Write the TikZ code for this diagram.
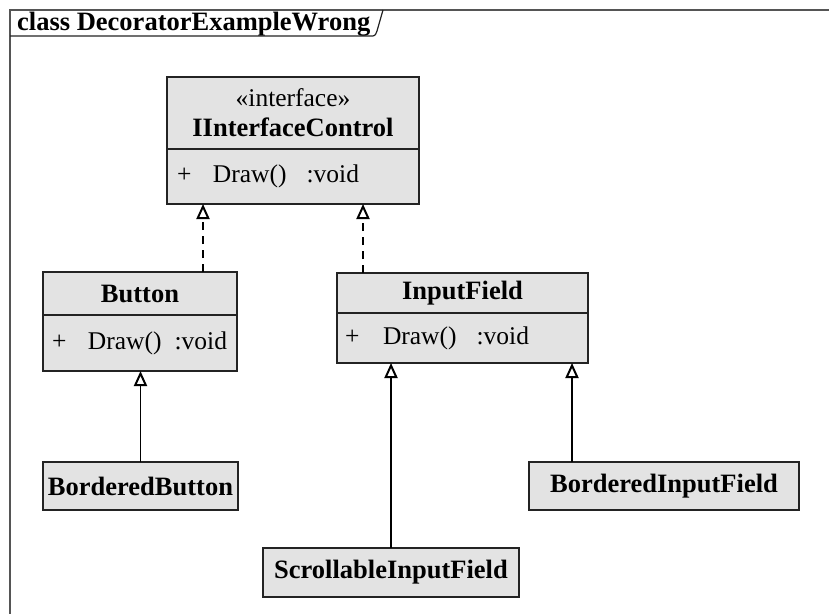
\documentclass[tikz,border=0pt]{standalone}
\usepackage{fontspec}
\setmainfont{Liberation Serif}
\usetikzlibrary{positioning,arrows.meta,calc}
\definecolor{umlfill}{RGB}{227,227,227}
\definecolor{umledge}{RGB}{35,35,35}
\definecolor{umlframe}{RGB}{85,85,85}

\tikzset{
  umltext/.style={font=\fontsize{25.5}{30}\selectfont},
  umlbold/.style={font=\fontsize{26.5}{30}\selectfont\bfseries},
  clsbox/.style={umltext, draw=umledge, fill=umlfill, line width=1.2pt,
    inner sep=0pt, outer sep=0pt, align=center},
  opsbox/.style={umltext, draw=umledge, fill=umlfill, line width=1.2pt,
    inner sep=0pt, outer sep=0pt, align=left},
  realize/.style={line width=1.2pt, dash pattern=on 8pt off 6pt,
    -{Triangle[open,length=15pt,width=13pt,line width=2pt,sep=0pt]}},
  inherit/.style={line width=1.2pt,
    -{Triangle[open,length=15pt,width=13pt,line width=2pt,sep=0pt]}}
}

\begin{document}
\begin{tikzpicture}[x=1pt,y=-1pt]
  \useasboundingbox (0,0) rectangle (829,614);
  % frame
  \draw[umlframe, line width=2pt] (829,10) -| (10,614);
  \node[umlbold, anchor=base west, inner sep=0pt] (title) at (17,30) {class DecoratorExampleWrong};
  \draw[umledge, line width=1.2pt] (10,36) -- (370,36) .. controls (375,36) .. (377,31) -- (383,10);

  % interface
  \node[clsbox, minimum width=252pt, minimum height=72pt] (ic) at (293,113) {«interface»\\{\fontsize{26.5}{30}\selectfont\bfseries IInterfaceControl}};
  \node[opsbox, text width=252pt, minimum height=55pt, below=0pt of ic] (icops) {\hspace*{10pt}\makebox[36pt][l]{+}Draw()\hspace{20pt}:void};

  % concrete controls
  \node[clsbox, umlbold, minimum width=194pt, minimum height=43pt] (btn) at (140,293.5) {Button};
  \node[opsbox, text width=194pt, minimum height=56pt, below=0pt of btn] (btnops) {\hspace*{9pt}\mbox{\makebox[36pt][l]{+}Draw()\hspace{13pt}:void}};
  \node[clsbox, umlbold, minimum width=251pt, minimum height=40pt] (inp) at (462.5,293) {InputField};
  \node[opsbox, text width=251pt, minimum height=50pt, below=0pt of inp] (inpops) {\hspace*{8pt}\makebox[38pt][l]{+}Draw()\hspace{20pt}:void};

  % subclasses
  \node[clsbox, umlbold, minimum width=195pt, minimum height=48pt] (bbtn) at (140.5,486) {BorderedButton};
  \node[clsbox, umlbold, minimum width=256pt, minimum height=49pt] (scroll) at (391,572.5) {ScrollableInputField};
  \node[clsbox, umlbold, minimum width=270pt, minimum height=48pt] (binp) at (664,486) {BorderedInputField};

  % realizations
  \draw[realize] ([xshift=63pt]btn.north) -- ([xshift=63pt]btn.north |- icops.south);
  \draw[realize] ([xshift=-99.5pt]inp.north) -- ([xshift=-99.5pt]inp.north |- icops.south);
  % generalizations
  \draw[inherit] (bbtn.north) -- (bbtn.north |- btnops.south);
  \draw[inherit] (scroll.north) -- (scroll.north |- inpops.south);
  \draw[inherit] ([xshift=-92pt]binp.north) -- ([xshift=-92pt]binp.north |- inpops.south);
\end{tikzpicture}
\end{document}
